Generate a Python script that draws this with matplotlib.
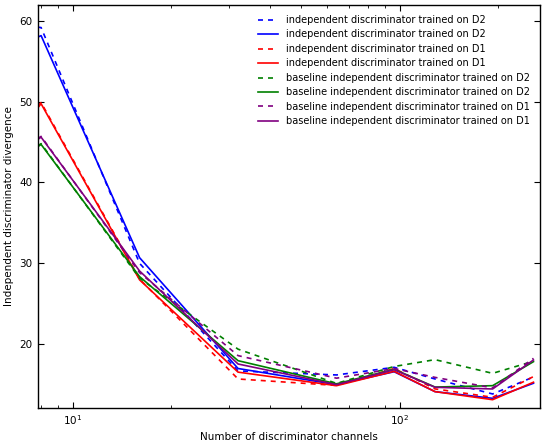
import matplotlib
matplotlib.use('Agg')
import matplotlib.pyplot as plt
from matplotlib.ticker import NullFormatter, FixedLocator

# channel counts (first point sits on the left edge of the axes)
channels = [7.8, 8, 16, 32, 64, 96, 128, 192, 256]

ind_d2_dash = [59.26, 59.2, 29.95, 16.6, 16.1, 17.05, 15.6, 13.74, 15.85]
ind_d2 = [58.0, 58.2, 30.65, 16.9, 14.9, 16.5, 14.03, 13.2, 15.07]
ind_d1_dash = [49.5, 49.9, 28.0, 15.6, 14.8, 16.9, 14.37, 13.33, 15.9]
ind_d1 = [49.2, 49.75, 27.9, 16.45, 14.77, 16.55, 14.03, 13.03, 15.2]
base_d2_dash = [44.5, 44.8, 28.1, 19.3, 15.05, 17.15, 18.0, 16.3, 17.8]
base_d2 = [44.4, 44.7, 28.3, 17.87, 15.0, 16.8, 14.6, 14.77, 17.75]
base_d1_dash = [45.4, 45.7, 28.8, 18.5, 15.7, 16.9, 15.8, 14.5, 18.16]
base_d1 = [45.3, 45.6, 29.0, 17.46, 14.9, 16.75, 14.57, 14.36, 17.96]

series = [
    (ind_d2_dash, 'blue', '--', 'independent discriminator trained on D2'),
    (ind_d2, 'blue', '-', 'independent discriminator trained on D2'),
    (ind_d1_dash, 'red', '--', 'independent discriminator trained on D1'),
    (ind_d1, 'red', '-', 'independent discriminator trained on D1'),
    (base_d2_dash, 'green', '--', 'baseline independent discriminator trained on D2'),
    (base_d2, 'green', '-', 'baseline independent discriminator trained on D2'),
    (base_d1_dash, 'purple', '--', 'baseline independent discriminator trained on D1'),
    (base_d1, 'purple', '-', 'baseline independent discriminator trained on D1'),
]

plt.rcParams['font.size'] = 7.5
plt.rcParams['xtick.direction'] = 'in'
plt.rcParams['ytick.direction'] = 'in'
plt.rcParams['xtick.top'] = True
plt.rcParams['ytick.right'] = True

fig = plt.figure(figsize=(5.48, 4.42), dpi=100)
ax = fig.add_axes([37.5/548, 1-408/442, (540-37.5)/548, (408-5)/442])

for vals, col, ls, lab in series:
    if ls == '--':
        ax.plot(channels, vals, color=col, lw=1.2, linestyle=(0, (3, 3)), label=lab)
    else:
        ax.plot(channels, vals, color=col, lw=1.2, linestyle='-', label=lab)

ax.set_xscale('log')
ax.set_xlim(7.8, 268)
ax.set_ylim(12, 62)
ax.yaxis.set_major_locator(FixedLocator([20, 30, 40, 50, 60]))
ax.xaxis.set_minor_formatter(NullFormatter())
ax.tick_params(which='major', length=4, width=0.8)
ax.tick_params(which='minor', length=2, width=0.6)
for s in ax.spines.values():
    s.set_linewidth(1.0)

ax.set_xlabel('Number of discriminator channels')
ax.set_ylabel('Independent discriminator divergence')
ax.legend(loc='upper right', frameon=False, fontsize=7.0, labelspacing=0.46,
          handlelength=2.1, borderaxespad=0.63)

fig.savefig('out.png', dpi=100)
